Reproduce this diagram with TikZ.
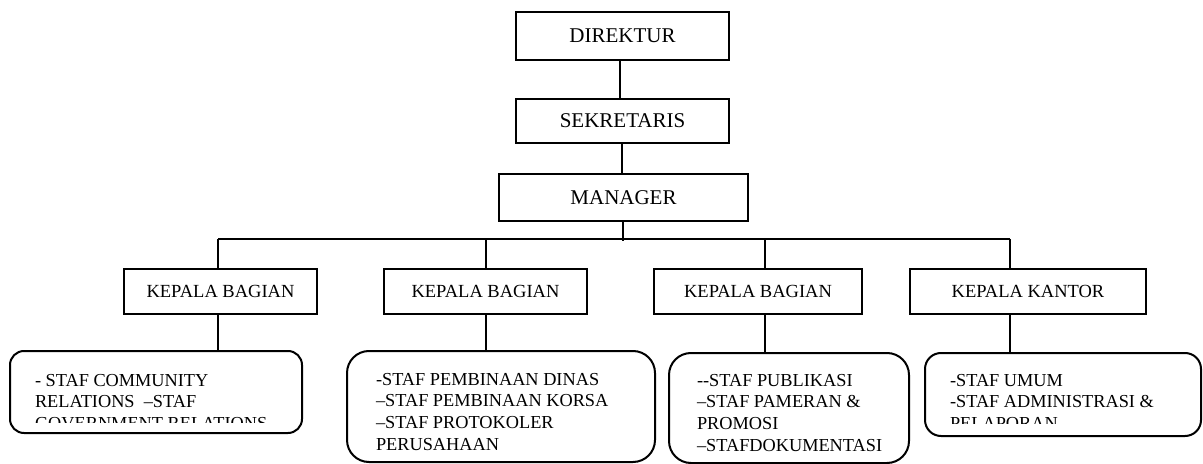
\documentclass[tikz,border=0pt]{standalone}
\usepackage{fontspec}
\setmainfont{Liberation Serif}
\begin{document}
\begin{tikzpicture}[x=0.5pt,y=-0.5pt,
  line width=1pt,
  topbox/.style={draw,rectangle,inner sep=0pt,font=\fontsize{10.5pt}{12pt}\selectfont},
  kbox/.style={draw,rectangle,inner sep=0pt,minimum height=22.5pt,font=\fontsize{9.25pt}{11pt}\selectfont},
  rbox/.style={draw,rectangle,inner sep=0pt},
  stafftext/.style={anchor=north west,inner sep=0pt,align=left,font=\fontsize{9.15pt}{10.9pt}\selectfont},
  conn/.style={line width=1pt}]
\useasboundingbox (0,0) rectangle (1203,464);

% top chain
\node[topbox,minimum width=106.5pt,minimum height=24pt] (dir) at (622.5,36) {DIREKTUR};
\node[topbox,minimum width=106.5pt,minimum height=22pt] (sek) at (622.5,121) {SEKRETARIS};
\node[topbox,minimum width=124.5pt,minimum height=23.5pt] (man) at (623.5,197.5) {MANAGER};

\coordinate (v1) at (620,0);
\coordinate (v2) at (621.5,0);
\draw[conn] (v1 |- dir.south) -- (v1 |- sek.north);
\draw[conn] (v2 |- sek.south) -- (v2 |- man.north);

% bus
\coordinate (busL) at (218,239);
\coordinate (busR) at (1010,239);
\coordinate (bus2) at (486,239);
\coordinate (bus3) at (765,239);
\coordinate (busM) at (622.5,241);
\draw[conn] (busM |- man.south) -- (busM);
\draw[conn] (busL) -- (busR);

% heads
\node[kbox,minimum width=96.5pt] (k1) at (220.5,291.5) {KEPALA BAGIAN};
\node[kbox,minimum width=101.5pt] (k2) at (485.5,291.5) {KEPALA BAGIAN};
\node[kbox,minimum width=104pt] (k3) at (758,291.5) {KEPALA BAGIAN};
\node[kbox,minimum width=118pt] (k4) at (1028,291.5) {KEPALA KANTOR};

\draw[conn] (busL) -- (busL |- k1.north);
\draw[conn] (bus2) -- (bus2 |- k2.north);
\draw[conn] (bus3) -- (bus3 |- k3.north);
\draw[conn] (busR) -- (busR |- k4.north);

% staff boxes
\node[rbox,rounded corners=7pt,minimum width=146pt,minimum height=41pt] (r1) at (156,392) {};
\node[rbox,rounded corners=11pt,minimum width=154pt,minimum height=55.5pt] (r2) at (501,406.5) {};
\node[rbox,rounded corners=11pt,minimum width=120pt,minimum height=55pt] (r3) at (789,408) {};
\node[rbox,rounded corners=8pt,minimum width=138pt,minimum height=41.5pt] (r4) at (1063,394.5) {};

\coordinate (d1) at (218,314);
\coordinate (d2) at (486,314);
\coordinate (d3) at (765,314);
\coordinate (d4) at (1010,314);
\draw[conn] (d1 |- k1.south) -- (d1 |- r1.north);
\draw[conn] (d2 |- k2.south) -- (d2 |- r2.north);
\draw[conn] (d3 |- k3.south) -- (d3 |- r3.north);
\draw[conn] (d4 |- k4.south) -- (d4 |- r4.north);

% staff texts
\begin{scope}
\clip (12,355) rectangle (300,422);
\node[stafftext] (t1) at (34,373) {- STAF COMMUNITY\\RELATIONS\ \ –STAF\\GOVERNMENT RELATIONS};
\end{scope}
\node[stafftext] (t2) at (375,372) {-STAF PEMBINAAN DINAS\\–STAF PEMBINAAN KORSA\\–STAF PROTOKOLER\\PERUSAHAAN};
\node[stafftext] (t3) at (696,373) {-{}-STAF PUBLIKASI\\–STAF PAMERAN \&\\PROMOSI\\–STAFDOKUMENTASI};
\begin{scope}
\clip (927,355) rectangle (1199,423);
\node[stafftext] (t4) at (949,373) {-STAF UMUM\\-STAF ADMINISTRASI \&\\PELAPORAN};
\end{scope}
\end{tikzpicture}
\end{document}
